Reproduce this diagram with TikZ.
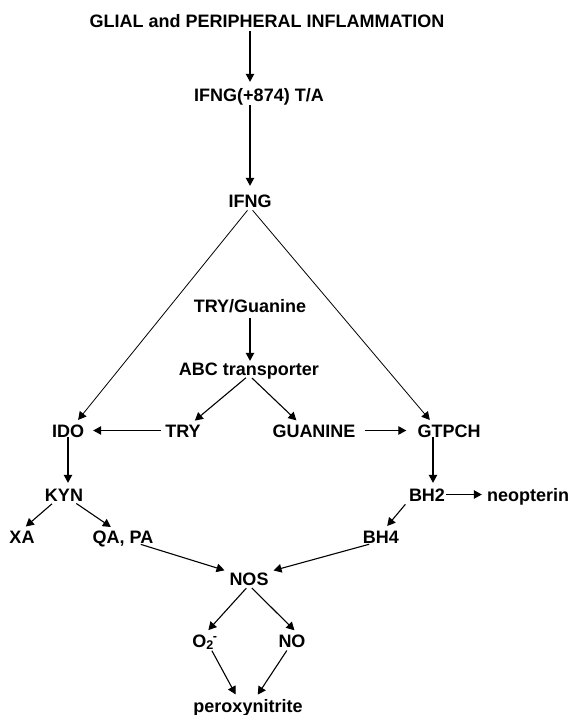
\documentclass[tikz,border=0pt]{standalone}
\usepackage{fontspec}
\setmainfont{Liberation Sans}
\usetikzlibrary{arrows.meta}
\begin{document}
\begin{tikzpicture}[x=1pt,y=-1pt,
  lbl/.style={font=\bfseries\fontsize{18}{20}\selectfont,inner sep=0pt,text height=13pt,text depth=0pt,anchor=base},
  arr/.style={draw=black,line width=1.1pt,-{Triangle[length=8pt,width=8.5pt]},shorten <=4pt,shorten >=5pt}]
\useasboundingbox (0,0) rectangle (571,715);
\node[lbl] (glial) at (267,27) {GLIAL and PERIPHERAL INFLAMMATION};
\node[lbl] (snp) at (259,101) {IFNG(+874) T/A};
\node[lbl] (ifng) at (250,207) {IFNG};
\node[lbl] (tryguan) at (250,312) {TRY/Guanine};
\node[lbl] (abc) at (249,375) {ABC transporter};
\node[lbl] (ido) at (68,437) {IDO};
\node[lbl] (try) at (183,437) {TRY};
\node[lbl] (guan) at (314,437) {GUANINE};
\node[lbl] (gtpch) at (449,437) {GTPCH};
\node[lbl] (kyn) at (64,501) {KYN};
\node[lbl] (bhtwo) at (427,501) {BH2};
\node[lbl] (neo) at (528,501) {neopterin};
\node[lbl] (xa) at (22,543) {XA};
\node[lbl] (qapa) at (123,543) {QA, PA};
\node[lbl] (bhfour) at (381,543) {BH4};
\node[lbl] (nos) at (249,585) {NOS};
\node[lbl] (otwo) at (205,647) {O\textsubscript{2}\kern-1pt\textsuperscript{-}};
\node[lbl] (no) at (292,647) {NO};
\node[lbl] (perox) at (248,712) {peroxynitrite};
% top chain
\draw[arr,shorten >=6pt] (glial.south -| ifng) -- (snp.north -| ifng);
\draw[arr,shorten >=8pt] (snp.south -| ifng) -- (ifng.north);
\draw[arr,line width=.8pt] (ifng.south) -- ([xshift=7pt]ido.north);
\draw[arr,line width=.8pt] (ifng.south) -- ([xshift=-16pt]gtpch.north);
% transporter
\draw[arr,shorten <=6pt,shorten >=1pt] (tryguan.south) -- (abc.north -| tryguan.south);
\draw[arr] (abc.south) -- ([xshift=8pt]try.north);
\draw[arr] (abc.south) -- ([xshift=-14pt]guan.north);
\draw[arr,shorten >=9pt] (try.west) -- (ido.east);
\draw[arr,shorten <=9pt,shorten >=11pt] (guan.east) -- (gtpch.west);
% kynurenine side
\draw[arr,shorten <=0pt] (ido.south) -- (ido.south |- kyn.north);
\draw[arr] ([xshift=-9pt]kyn.south) -- (xa.north);
\draw[arr] ([xshift=9pt]kyn.south) -- ([xshift=-8pt]qapa.north);
\draw[arr] ([xshift=14pt]qapa.south) -- (nos.north west);
% pterin side
\draw[arr,shorten <=0pt] ([xshift=6pt]gtpch.south -| bhtwo.north) -- ([xshift=6pt]bhtwo.north);
\draw[arr,shorten <=1pt] (bhtwo.east |- bhtwo.center) -- (neo.west |- bhtwo.center);
\draw[arr] ([xshift=-19pt]bhtwo.south) -- ([xshift=3pt]bhfour.north);
\draw[arr] ([xshift=-8pt]bhfour.south) -- (nos.north east);
% NOS products
\draw[arr] (nos.south) -- (otwo.north);
\draw[arr] (nos.south) -- ([xshift=6pt]no.north);
\draw[arr] ([xshift=5pt]otwo.south) -- ([xshift=-10pt]perox.north);
\draw[arr] ([xshift=-3pt]no.south) -- ([xshift=7pt]perox.north);
\end{tikzpicture}
\end{document}
